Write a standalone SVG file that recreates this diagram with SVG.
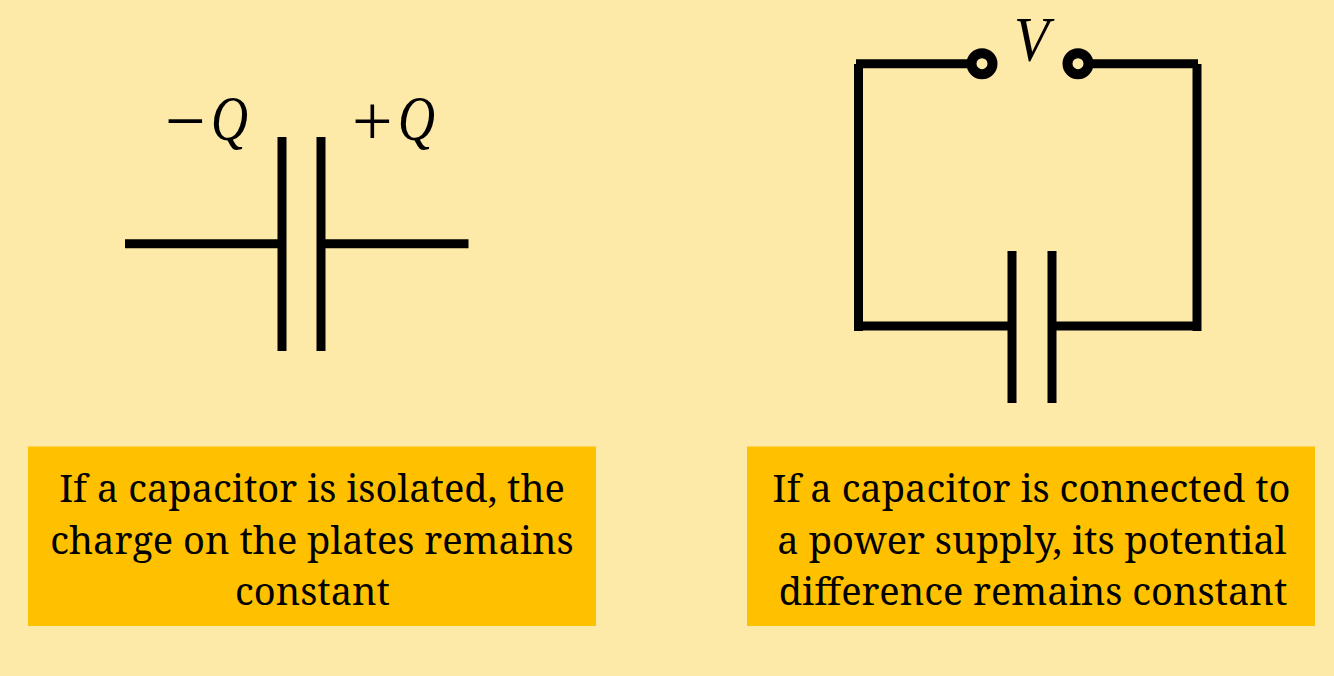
<svg xmlns="http://www.w3.org/2000/svg" width="1334" height="676" viewBox="0 0 1334 676">
<style>
.w{stroke:#000;stroke-width:9;fill:none}
.b{fill:#ffc000}
.t{font-family:"Noto Serif","DejaVu Serif","Liberation Serif",serif;font-size:38px;fill:#000;text-anchor:middle}
.m{font-family:"Liberation Serif",serif;font-size:63px;fill:#000;font-style:italic}
.s{font-family:"Liberation Serif",serif;font-size:72px;fill:#000}
.c{fill:none;stroke:#000;stroke-width:10}
</style>
<rect width="1334" height="676" fill="#fdeaa9"/>
<g id="connectors">
<path class="w" d="M125 243.700H278M325 243.700H468.500"/>
<path class="w" d="M858.500 64V331M856 63.700H968M1092 63.700H1198M1197 64V331M859 326H1008M1056 326H1197"/>
</g>
<g id="capacitor-left"><path class="w" d="M282 137V351M321 137V351"/></g>
<g id="capacitor-right"><path class="w" d="M1012 251V403M1052 251V403"/></g>
<g id="terminal-left"><circle class="c" cx="982" cy="63.700" r="10.500"/></g>
<g id="terminal-right"><circle class="c" cx="1078" cy="63.700" r="10.500"/></g>
<g id="label-minus-q"><text class="s" x="165" y="145">−</text><text class="m" x="211" y="140" textLength="37" lengthAdjust="spacingAndGlyphs">Q</text></g>
<g id="label-plus-q"><text class="s" x="352" y="145">+</text><text class="m" x="398" y="140" textLength="37" lengthAdjust="spacingAndGlyphs">Q</text></g>
<g id="label-v"><text class="m" x="1014" y="61" textLength="35" lengthAdjust="spacingAndGlyphs">V</text></g>
<g id="note-left"><rect class="b" x="28" y="446.500" width="568" height="179.500"/>
<text class="t" x="312" y="502">If a capacitor is isolated, the</text>
<text class="t" x="312" y="554">charge on the plates remains</text>
<text class="t" x="312.500" y="605">constant</text></g>
<g id="note-right"><rect class="b" x="747" y="446.500" width="568" height="179.500"/>
<text class="t" x="1031.500" y="502">If a capacitor is connected to</text>
<text class="t" x="1032" y="554">a power supply, its potential</text>
<text class="t" x="1033" y="605">difference remains constant</text></g>
</svg>
